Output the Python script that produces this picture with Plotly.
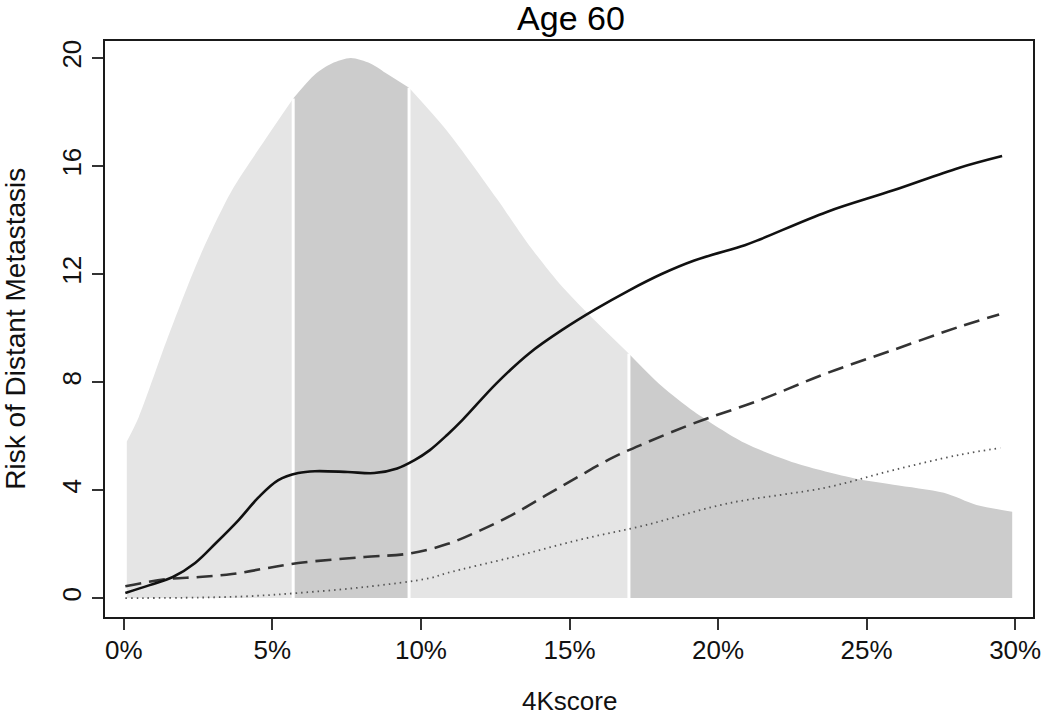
import plotly.graph_objects as go

# ---------------- data ----------------
# density of 4Kscore (drawn on the risk scale)
dens_x = [0.1, 0.5, 1.43, 2.54, 3.64, 4.77, 5.7, 6.44, 7.0, 7.64, 8.3, 8.88, 9.6,
          10.88, 12.55, 13.65, 14.78, 15.88, 17.0, 18.1, 19.2, 20.9, 22.6, 24.6,
          25.9, 27.6, 28.7, 29.9]
dens_y = [5.8, 6.7, 9.5, 12.6, 15.1, 17.0, 18.5, 19.4, 19.8, 20.0, 19.8, 19.4, 18.9,
          17.3, 14.8, 13.05, 11.5, 10.25, 9.05, 7.85, 6.9, 5.74, 5.0, 4.43,
          4.2, 3.9, 3.45, 3.2]
band_edges = [5.7, 9.6, 17.0]
band_colors = ["#e5e5e5", "#cccccc", "#e5e5e5", "#cccccc"]

# solid curve
solid_x = [0.05, 0.87, 1.65, 2.4, 3.1, 3.87, 4.54, 5.2, 5.87, 6.43, 7.54, 8.43, 9.2,
           9.77, 10.3, 10.88, 11.4, 12.55, 13.65, 14.78, 15.88, 16.98, 18.1, 19.2,
           20.9, 21.45, 23.66, 25.9, 28.1, 29.56]
solid_y = [0.19, 0.48, 0.78, 1.3, 2.04, 2.9, 3.74, 4.37, 4.63, 4.70, 4.67, 4.63, 4.8,
           5.1, 5.48, 6.04, 6.6, 7.96, 9.07, 9.95, 10.7, 11.38, 12.0, 12.5,
           13.07, 13.3, 14.3, 15.1, 15.93, 16.37]

# dashed curve
dash_x = [0.05, 1.43, 2.54, 3.64, 4.77, 5.87, 8.1, 9.6, 10.88, 11.98, 13.1, 14.2,
          15.3, 16.45, 17.55, 19.2, 21.45, 23.66, 25.9, 28.1, 29.46]
dash_y = [0.44, 0.7, 0.78, 0.89, 1.1, 1.3, 1.52, 1.65, 2.0, 2.5, 3.1, 3.8,
          4.5, 5.2, 5.74, 6.48, 7.35, 8.33, 9.19, 10.04, 10.5]

# dotted curve
dot_x = [0.05, 2.54, 4.2, 5.87, 8.1, 10.3, 10.88, 13.1, 15.3, 17.55, 20.3, 23.66,
         25.9, 28.1, 29.5]
dot_y = [0.0, 0.02, 0.07, 0.19, 0.41, 0.74, 0.93, 1.52, 2.15, 2.7, 3.5, 4.1,
         4.74, 5.3, 5.56]

x_ticks = [0, 5, 10, 15, 20, 25, 30]
x_ticktext = ["0%", "5%", "10%", "15%", "20%", "25%", "30%"]
y_ticks = [0, 4, 8, 12, 16, 20]
y_ticktext = ["0", "4", "8", "12", "16", "20"]

title_text = "Age 60"
x_title = "4Kscore"
y_title = "Risk of Distant Metastasis"

FONT = "Liberation Sans, Arial, sans-serif"

fig = go.Figure()

# density bands (each band filled down to zero, vertical edges at band limits)
bounds = [dens_x[0]] + band_edges + [dens_x[-1]]
for i in range(len(bounds) - 1):
    lo, hi = bounds[i], bounds[i + 1]
    xs = [x for x in dens_x if lo <= x <= hi]
    ys = [y for x, y in zip(dens_x, dens_y) if lo <= x <= hi]
    fig.add_trace(go.Scatter(
        x=xs, y=ys, fill="tozeroy", fillcolor=band_colors[i], mode="lines",
        line=dict(width=0, color=band_colors[i], shape="spline", smoothing=0.8),
        hoverinfo="skip", showlegend=False))

# white separators between bands
for e in band_edges:
    top = dens_y[dens_x.index(e)]
    fig.add_trace(go.Scatter(x=[e, e], y=[0, top], mode="lines",
                             line=dict(color="white", width=3),
                             hoverinfo="skip", showlegend=False))

# curves
fig.add_trace(go.Scatter(x=dot_x, y=dot_y, mode="lines",
                         line=dict(color="#555555", width=1.8, dash="1.5px,4px",
                                   shape="spline", smoothing=1.0),
                         showlegend=False))
fig.add_trace(go.Scatter(x=dash_x, y=dash_y, mode="lines",
                         line=dict(color="#333333", width=2.6, dash="16px,8px",
                                   shape="spline", smoothing=1.0),
                         showlegend=False))
fig.add_trace(go.Scatter(x=solid_x, y=solid_y, mode="lines",
                         line=dict(color="#111111", width=2.6,
                                   shape="spline", smoothing=1.0),
                         showlegend=False))

axis_common = dict(
    showgrid=False, zeroline=False, showline=True, mirror=True,
    linecolor="#1a1a1a", linewidth=2, ticks="outside", ticklen=11,
    tickwidth=2, tickcolor="#333333",
    tickfont=dict(family=FONT, size=26, color="#111111"),
)

fig.update_layout(
    width=1050, height=718, autosize=False,
    margin=dict(l=105, r=9, t=41, b=101),
    paper_bgcolor="white", plot_bgcolor="white",
    title=dict(text=title_text, font=dict(family=FONT, size=34, color="black"),
               x=571 / 1050, xref="container", xanchor="center",
               y=1 - 18 / 718, yref="container", yanchor="middle"),
    xaxis=dict(range=[-0.634, 30.6], tickvals=x_ticks, ticktext=x_ticktext,
               ticklabelstandoff=-2, **axis_common),
    yaxis=dict(range=[-0.70, 20.63], tickvals=y_ticks, ticktext=y_ticktext,
               tickangle=-90, ticklabelstandoff=1, **axis_common),
    annotations=[
        dict(text=x_title, xref="paper", yref="paper", x=0.5, y=-84 / 576,
             xanchor="center", yanchor="middle", showarrow=False,
             font=dict(family=FONT, size=26, color="#111111")),
        dict(text=y_title, xref="paper", yref="paper", x=-91 / 936, y=0.5,
             xanchor="center", yanchor="middle", textangle=-90, showarrow=False,
             font=dict(family=FONT, size=28, color="#111111")),
    ],
)

fig.write_html("out.html", config={"displayModeBar": False},
               post_script="document.body.style.margin='0';")
